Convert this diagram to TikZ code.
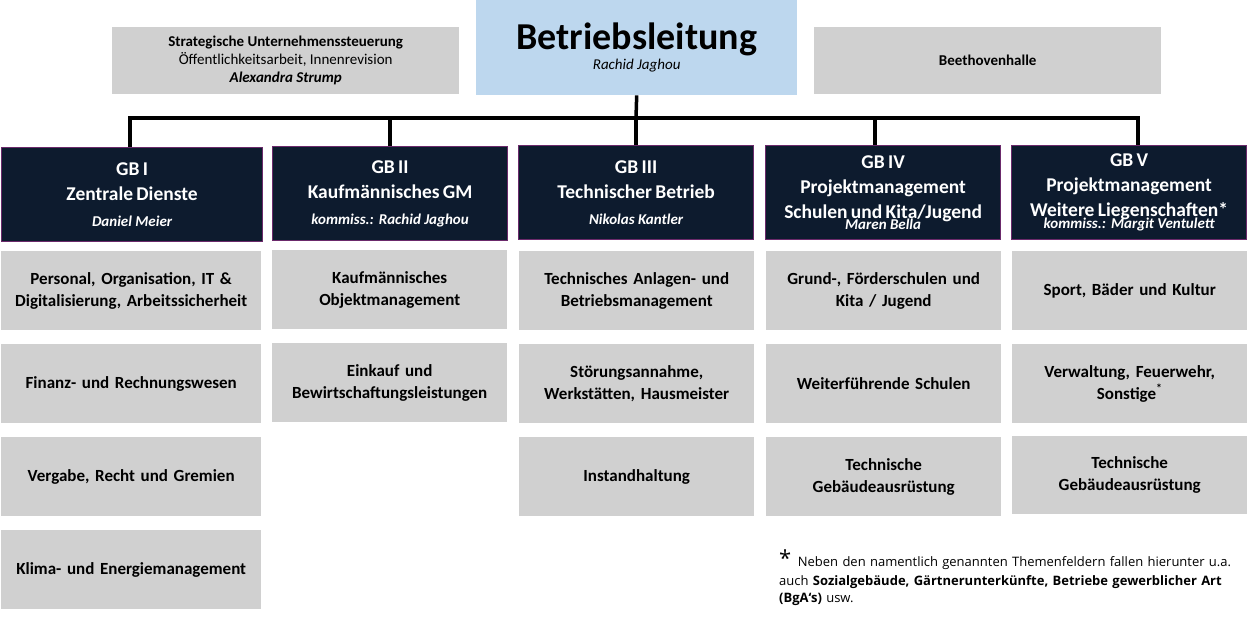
\documentclass[tikz,border=0pt]{standalone}
\usepackage{fontspec}
\setmainfont{Carlito}
\newfontfamily\notefont{Open Sans}
\usetikzlibrary{positioning}
\definecolor{navy}{HTML}{0D1B2E}
\definecolor{lila}{HTML}{6B2A6B}
\definecolor{hellblau}{HTML}{BDD7EE}
\definecolor{hellgrau}{HTML}{D0D0D0}
\tikzset{
  leitung/.style={fill=hellblau, anchor=north west, minimum width=321pt, minimum height=95pt, align=center, inner sep=0pt},
  stab/.style={fill=hellgrau, anchor=north west, minimum width=347pt, minimum height=67pt, align=center, inner sep=0pt, font=\fontsize{15}{18}\selectfont},
  gbbox/.style={fill=navy, draw=lila, line width=1.2pt, anchor=north west, minimum width=235pt, minimum height=94pt, text width=230pt, align=center, inner sep=0pt, text=white},
  fach/.style={fill=hellgrau, anchor=north west, minimum width=235pt, minimum height=79pt, text width=228pt, align=center, inner sep=0pt, font=\bfseries\fontsize{17}{22}\selectfont},
  linie/.style={line width=3.5pt, black}
}
\newcommand{\gbtext}[3]{\bfseries\fontsize{19.5}{25}\selectfont #1\\[#2]\fontsize{15}{25}\selectfont\itshape #3}
\begin{document}
\begin{tikzpicture}[x=1pt,y=-1pt]
\useasboundingbox (0,0) rectangle (1248,624);
% Leitung und Stabsstellen
\node[leitung] (bl) at (476,0) {\bfseries\fontsize{38}{42}\selectfont Betriebsleitung\\[2pt]\fontsize{15}{16}\selectfont\itshape Rachid Jaghou};
\node[stab] (su) at (112,27) {\bfseries Strategische Unternehmenssteuerung\\Öffentlichkeitsarbeit, Innenrevision\\\bfseries\itshape Alexandra Strump};
\node[stab] (bh) at (814,27) {\bfseries Beethovenhalle};
% Geschaeftsbereiche
\node[gbbox, minimum width=261pt, text width=255pt] (gb1) at (1,147) {\gbtext{GB I\\Zentrale Dienste}{14pt}{Daniel Meier}};
\node[gbbox] (gb2) at (272,146) {\gbtext{GB II\\Kaufmännisches GM}{14pt}{kommiss.: Rachid Jaghou}};
\node[gbbox] (gb3) at (518,145) {\gbtext{GB III\\Technischer Betrieb}{14pt}{Nikolas Kantler}};
\node[gbbox] (gb4) at (765,145) {\gbtext{GB IV\\Projektmanagement\\Schulen und Kita/Jugend}{-3pt}{Maren Bella}};
\node[gbbox] (gb5) at (1011,145) {\gbtext{GB V\\Projektmanagement\\Weitere Liegenschaften*}{-3pt}{kommiss.: Margit Ventulett}};
% Verbindungen
\coordinate (knoten) at (636,118);
\draw[linie] (bl.south) -- (knoten);
\draw[linie] (gb1.north -| 130,0) |- (knoten) -| (gb5.north -| 1138,0);
\foreach \g/\x in {gb2/390, gb3/636, gb4/875}
  \draw[linie] (\g.north -| \x,0) -- (\x,118);
% Fachbereiche
\node[fach, minimum width=260pt, text width=255pt] (f11) at (1,251) {Personal, Organisation, IT \&\\Digitalisierung, Arbeitssicherheit};
\node[fach, minimum width=260pt, text width=255pt] (f12) at (1,344) {Finanz- und Rechnungswesen};
\node[fach, minimum width=260pt, text width=255pt] (f13) at (1,437) {Vergabe, Recht und Gremien};
\node[fach, minimum width=260pt, text width=255pt] (f14) at (1,530) {Klima- und Energiemanagement};
\node[fach] (f21) at (272,250) {Kaufmännisches\\Objektmanagement};
\node[fach] (f22) at (272,343) {Einkauf und\\Bewirtschaftungsleistungen};
\node[fach] (f31) at (519,251) {Technisches Anlagen- und\\Betriebsmanagement};
\node[fach] (f32) at (519,344) {Störungsannahme,\\Werkstätten, Hausmeister};
\node[fach] (f33) at (519,437) {Instandhaltung};
\node[fach] (f41) at (766,251) {Grund-, Förderschulen und\\Kita / Jugend};
\node[fach] (f42) at (766,344) {Weiterführende Schulen};
\node[fach] (f43) at (766,437) {Technische\\Gebäudeausrüstung};
\node[fach] (f51) at (1012,251) {Sport, Bäder und Kultur};
\node[fach] (f52) at (1012,344) {Verwaltung, Feuerwehr,\\Sonstige\textsuperscript{*}};
\node[fach, minimum height=78pt] (f53) at (1012,436) {Technische\\Gebäudeausrüstung};
% Fussnote
\node[anchor=north west, text width=465pt, align=left, inner sep=0pt, font=\notefont\fontsize{13}{22}\selectfont] (fn) at (779,550)
  {{\fontsize{22}{22}\selectfont *}\, Neben den namentlich genannten Themenfeldern fallen hierunter u.a.\\[-3pt]
   auch \textbf{Sozialgebäude, Gärtnerunterkünfte, Betriebe gewerblicher Art}\\[-5pt]\textbf{(BgA‘s)} usw.};
\end{tikzpicture}
\end{document}
